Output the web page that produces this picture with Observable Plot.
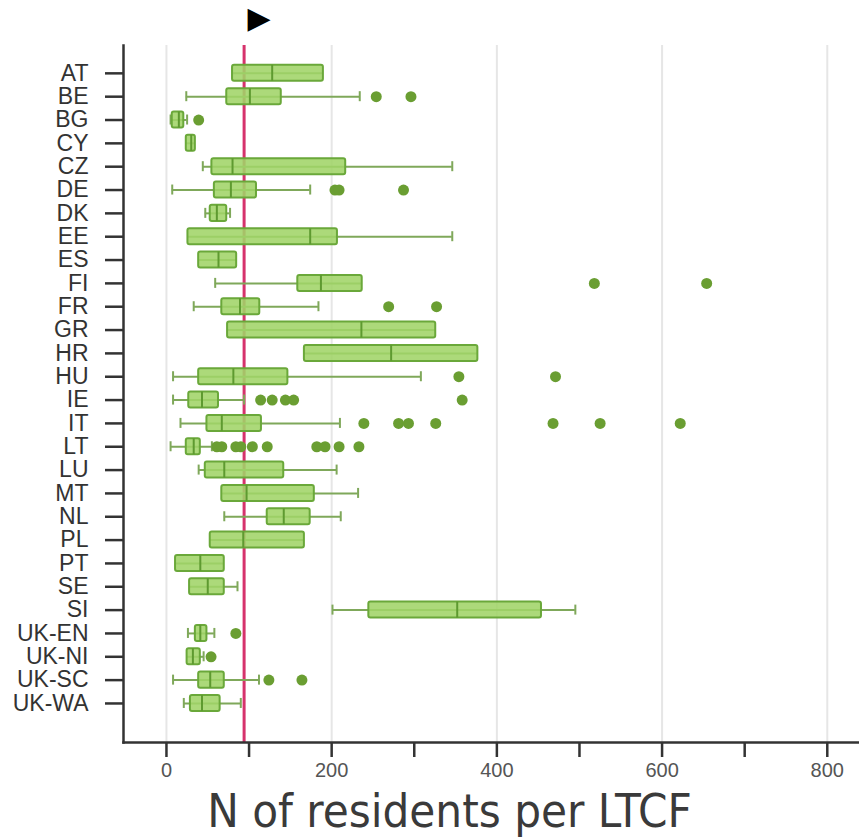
<!DOCTYPE html>
<html>
<head>
<meta charset="utf-8">
<script src="https://cdn.jsdelivr.net/npm/d3@7"></script>
<script src="https://cdn.jsdelivr.net/npm/@observablehq/plot@0.6"></script>
<style>
  html, body { margin: 0; padding: 0; background: #fff; }
  #chart svg { display: block; }
</style>
</head>
<body>
<div id="chart"></div>
<script>
const countries = ["AT","BE","BG","CY","CZ","DE","DK","EE","ES","FI","FR","GR","HR","HU","IE","IT","LT","LU","MT","NL","PL","PT","SE","SI","UK-EN","UK-NI","UK-SC","UK-WA"];
const whiskerLow  = [80, 24,  5, 24,  44,   7, 47,  26, 39,  59,  33,  74, 167,   8,  8,  17,  5, 39,  67,  70,  53, 11, 28, 201, 26, 25,   8, 21];
const quartile1   = [80, 73,  7, 24,  55,  58, 53,  26, 39, 159,  67,  74, 167,  39, 27,  49, 24, 47,  67, 122,  53, 11, 28, 245, 35, 25,  39, 29];
const median      = [128,101, 15, 30,  80,  78, 61, 174, 63, 187,  89, 236, 272,  81, 43,  67, 33, 70,  97, 142,  93, 41, 50, 352, 41, 32,  53, 43];
const quartile3   = [190,139, 21, 35, 217, 109, 73, 207, 85, 237, 113, 326, 377, 147, 63, 115, 41,142, 179, 174, 167, 70, 70, 454, 49, 41,  70, 65];
const whiskerHigh = [190,234, 25, 35, 346, 174, 77, 346, 85, 237, 184, 326, 377, 308, 94, 210, 55,206, 232, 211, 167, 70, 86, 495, 58, 45, 112, 90];

const outlierCountry = ["BE","BE","BG","DE","DE","DE","FI","FI","FR","FR","HU","HU",
  "IE","IE","IE","IE","IE","IT","IT","IT","IT","IT","IT","IT",
  "LT","LT","LT","LT","LT","LT","LT","LT","LT","LT","UK-EN","UK-NI","UK-SC","UK-SC"];
const outlierValue = [254,296,39,204,209,287,518,654,269,327,354,471,
  114,128,144,154,358,239,281,293,326,468,525,622,
  61,67,84,90,104,122,182,192,209,233,84,54,124,164];

const referenceValue = 94;
const xTicks = [0,100,200,300,400,500,600,700,800];
const xLabelTicks = [0,200,400,600,800];
const xLabel = "N of residents per LTCF";
const xDomain = [-52, 839];

const rows = countries.map((c, i) => ({
  country: c, lo: whiskerLow[i], q1: quartile1[i], med: median[i], q3: quartile3[i], hi: whiskerHigh[i]
}));
const outliers = outlierCountry.map((c, i) => ({country: c, value: outlierValue[i]}));
const lowCaps = rows.filter(d => d.lo < d.q1);
const highCaps = rows.filter(d => d.hi > d.q3);

const boxFill = "#a0d468";
const boxStroke = "#6aa83a";
const whiskerColor = "#7fa85a";
const axisColor = "#333";

const chart = Plot.plot({
  width: 859,
  height: 839,
  marginLeft: 123,
  marginRight: 0,
  marginTop: 45,
  marginBottom: 97,
  style: {fontFamily: "'Liberation Sans', Arial, sans-serif", background: "#fff"},
  x: {domain: xDomain},
  y: {type: "band", domain: countries, paddingInner: 0.314, paddingOuter: 1.09, align: 0.39, round: false},
  marks: [
    Plot.gridX(xLabelTicks, {stroke: "#e6e6e6", strokeOpacity: 1, strokeWidth: 2}),
    Plot.ruleX([referenceValue], {stroke: "#d6336c", strokeWidth: 3}),
    Plot.ruleY(rows, {y: "country", x1: "lo", x2: "hi", stroke: whiskerColor, strokeWidth: 2}),
    Plot.tickX(lowCaps, {y: "country", x: "lo", stroke: whiskerColor, strokeWidth: 2, insetTop: 3, insetBottom: 3}),
    Plot.tickX(highCaps, {y: "country", x: "hi", stroke: whiskerColor, strokeWidth: 2, insetTop: 3, insetBottom: 3}),
    Plot.barX(rows, {y: "country", x1: "q1", x2: "q3", fill: boxFill, fillOpacity: 0.88, stroke: boxStroke, strokeWidth: 2, rx: 2}),
    Plot.tickX(rows, {y: "country", x: "med", stroke: "#5e9a30", strokeWidth: 2}),
    Plot.dot(outliers, {y: "country", x: "value", r: 5.5, fill: "#6a9e32", stroke: "none"}),
    Plot.frame({anchor: "left", stroke: axisColor, strokeWidth: 2.5}),
    Plot.frame({anchor: "bottom", stroke: axisColor, strokeWidth: 2.5}),
    Plot.axisY({tickSize: 18, tickPadding: 17, fontSize: 23, stroke: axisColor, strokeWidth: 2.5, fill: "#333", label: null}),
    Plot.axisX({ticks: xTicks, tickSize: 15, stroke: axisColor, strokeWidth: 2.5, fill: "none", label: null}),
    Plot.axisX({ticks: xLabelTicks, tickSize: 0, tickPadding: 20, fontSize: 20, fill: "#555", label: null}),
    Plot.text([xLabel], {frameAnchor: "bottom", dy: 84, dx: -42, fontSize: 47, fill: "#3a3a3a",
      fontFamily: "'DejaVu Sans Condensed', 'DejaVu Sans', sans-serif", fontStretch: "condensed"}),
    Plot.text(["\u25B6"], {x: [referenceValue], frameAnchor: "top", dy: -39, dx: 15, fontSize: 30, fill: "#000",
      fontFamily: "'DejaVu Sans', sans-serif"})
  ]
});
document.getElementById("chart").appendChild(chart);
</script>
</body>
</html>
